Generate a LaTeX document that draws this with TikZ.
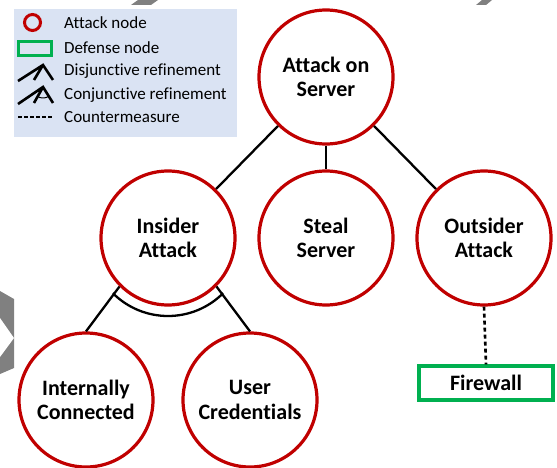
\documentclass[tikz,border=0pt]{standalone}
\usepackage{fontspec}
\setmainfont{Carlito}[Ligatures=NoCommon]
\definecolor{atkred}{HTML}{C00000}
\definecolor{defgreen}{HTML}{00B050}
\definecolor{legendfill}{HTML}{DAE3F3}
\definecolor{chevgrey}{HTML}{808080}
\begin{document}
\begin{tikzpicture}[x=1pt,y=-1pt,
  attack/.style={circle,draw=atkred,line width=3.2pt,minimum size=134pt,inner sep=0pt,
    align=center,font=\fontsize{22}{24.5}\selectfont\bfseries},
  defense/.style={rectangle,draw=defgreen,line width=3.2pt,minimum width=134pt,minimum height=34pt,
    inner sep=0pt,font=\fontsize{22}{24.5}\selectfont\bfseries},
  edge/.style={line width=2.3pt,black},
  counter/.style={line width=2.6pt,black,dash pattern=on 4pt off 3pt},
  legtext/.style={anchor=west,inner sep=0pt,font=\fontsize{17}{19}\selectfont},
  legsym/.style={line width=2.6pt,black}]
\useasboundingbox (0,0) rectangle (557,468);

% background chevrons, partly outside the frame
\fill[chevgrey] (131,5) -- (138,0) -- (158,0) -- (151,5) -- cycle;
\fill[chevgrey] (476,5) -- (482,0) -- (492,0) -- (486,5) -- cycle;
\fill[chevgrey] (0,291) -- (14,299) -- (14,368) -- (0,374) -- cycle;
\fill[white] (0,318) -- (14,338) -- (0,357) -- cycle;

% legend
\fill[legendfill] (14,9) rectangle (237,137);
\node[circle,draw=atkred,line width=3pt,minimum size=16pt,inner sep=0pt] (lgatk) at (32.5,22.5) {};
\node[rectangle,draw=defgreen,line width=3pt,minimum width=33pt,minimum height=14pt,inner sep=0pt] (lgdef) at (35,48.5) {};
\coordinate (dapex) at (43,65);
\coordinate (dl) at (18,81);
\coordinate (dm) at (34,80);
\coordinate (dr) at (53,80);
\draw[legsym] (dl) -- (dapex) -- (dr) (dapex) -- (dm);
\coordinate (capex) at (43,87);
\coordinate (cl) at (18,104);
\coordinate (cm) at (34,103);
\coordinate (cr) at (53,103);
\draw[legsym] (cl) -- (capex) -- (cr) (capex) -- (cm);
\draw[line width=1pt] ([shift={(122:11)}]capex) arc[start angle=122,end angle=61,radius=11];
\coordinate (cml) at (18,117);
\coordinate (cmr) at (53,117);
\draw[line width=2.4pt,dash pattern=on 3.5pt off 2.5pt] (cml) -- (cmr);
\node[legtext] (t1) at (64,23) {Attack node};
\node[legtext] (t2) at (64,48) {Defense node};
\node[legtext] (t3) at (64,71) {Disjunctive refinement};
\node[legtext] (t4) at (64,95) {Conjunctive refinement};
\node[legtext] (t5) at (64,117) {Countermeasure};

% attack tree
\node[attack] (root) at (326,77) {Attack on\\Server};
\node[attack] (insider) at (168,238) {Insider\\Attack};
\node[attack] (steal) at (326,238) {Steal\\Server};
\node[attack] (outsider) at (484,238) {Outsider\\Attack};
\node[attack] (internal) at (86,400) {Internally\\Connected};
\node[attack] (user) at (250,400) {User\\Credentials};
\node[defense] (firewall) at (486,383) {Firewall};

\draw[edge] (root) -- (insider);
\draw[edge] (root) -- (steal);
\draw[edge] (root) -- (outsider);
\draw[edge] (insider.225) -- (internal.north);
\draw[edge] (insider.315) -- (user.north);
\draw[edge] ([shift={(135:78)}]insider.center) arc[start angle=135,end angle=45,radius=78];
\draw[counter] (outsider.south) -- (firewall.north);
\end{tikzpicture}
\end{document}
